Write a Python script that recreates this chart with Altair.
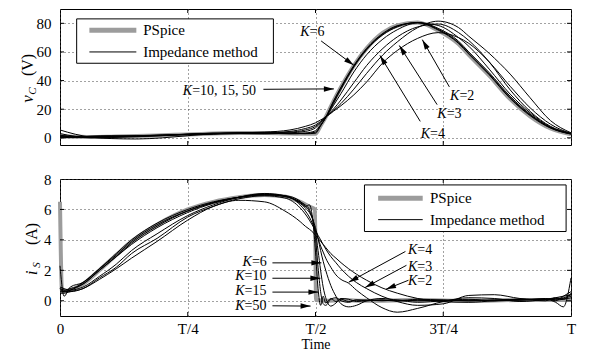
import math
import altair as alt
import pandas as pd

FONT = "Liberation Serif"
W = 511
H_TOP, H_BOT = 136, 137
V_DOMAIN = [-5, 90]
I_DOMAIN = [-1, 8]
GRAY = "#9c9c9c"

X_TICKS = [0, 0.25, 0.5, 0.75, 1.0]
X_TICK_LABELS = ["0", "T/4", "T/2", "3T/4", "T"]
V_TICKS = [0, 20, 40, 60, 80]
I_TICKS = [0, 2, 4, 6, 8]

# ---------------- top panel: capacitor voltage vC ----------------
t_ps_v = [0, 0.03, 0.06, 0.1, 0.15, 0.2, 0.25, 0.3, 0.35, 0.4, 0.45, 0.48, 0.5, 0.51, 0.52,
          0.535, 0.55, 0.575, 0.6, 0.632, 0.66, 0.7, 0.74, 0.78, 0.8, 0.84, 0.881, 0.92, 0.96, 1.0]
ps_v = [1.0, 0.8, 0.6, 0.8, 1.2, 1.8, 2.4, 3.0, 3.3, 3.3, 3.0, 2.8, 2.8, 8.5, 14.5,
        25.5, 35.5, 50.5, 62.5, 73.5, 78.5, 80.5, 75.0, 65.5, 58.0, 43.5, 27.0, 15.0, 6.5, 2.5]

t_k_v = [0, 0.03, 0.06, 0.1, 0.15, 0.2, 0.25, 0.3, 0.35, 0.4, 0.45, 0.48, 0.5, 0.51, 0.52,
         0.535, 0.55, 0.575, 0.6, 0.632, 0.66, 0.7, 0.74, 0.78, 0.8, 0.84, 0.881, 0.92, 0.96, 1.0]
vc_k50 = [1.0, 0.9, 0.5, 0.8, 1.3, 1.7, 2.4, 3.0, 3.4, 3.3, 3.0, 2.9, 3.2, 8.5, 14.5,
          25.5, 35.5, 50.5, 62.5, 73.0, 78.3, 80.4, 75.3, 66.0, 58.5, 44.0, 27.5, 15.5, 6.8, 2.6]
vc_k15 = [0.5, 0.4, 0.9, 1.2, 1.0, 1.6, 2.6, 3.2, 3.1, 3.3, 3.1, 3.0, 4.0, 8.5, 14.0,
          25.0, 35.0, 50.0, 62.0, 72.5, 78.0, 80.5, 75.8, 66.5, 59.0, 44.5, 28.0, 16.0, 7.0, 2.7]
vc_k10 = [1.5, 1.0, 0.8, 0.6, 1.2, 2.0, 2.3, 2.8, 3.6, 3.4, 2.8, 3.3, 5.0, 9.0, 14.0,
          24.0, 34.0, 49.5, 61.5, 72.0, 77.5, 80.6, 76.5, 67.5, 60.0, 45.5, 29.0, 16.5, 7.2, 2.8]
vc_k6 = [0.0, 0.5, 1.2, 1.5, 1.4, 1.8, 2.6, 3.2, 3.0, 2.8, 3.5, 4.5, 7.0, 10.5, 14.5,
         22.5, 31.0, 46.0, 58.0, 69.0, 75.5, 80.3, 78.5, 70.0, 64.0, 48.0, 30.5, 17.5, 7.5, 3.0]
vc_k4 = [2.0, 0.5, 0.3, 1.0, 1.5, 2.0, 2.2, 2.5, 3.0, 3.6, 4.0, 5.5, 8.0, 11.0, 14.5,
         20.0, 26.5, 38.5, 50.5, 62.5, 70.5, 77.5, 79.5, 73.5, 68.0, 53.0, 33.5, 18.5, 8.0, 3.0]
vc_k3 = [3.0, 1.0, 0.0, 0.2, 0.8, 1.5, 2.5, 3.2, 3.4, 3.2, 4.5, 6.5, 9.0, 11.5, 14.5,
         19.0, 24.0, 34.0, 45.0, 58.0, 67.0, 77.0, 81.5, 77.0, 71.0, 59.0, 44.5, 28.0, 12.0, 3.5]
vc_k2 = [5.5, 2.5, 0.5, -0.5, -0.8, 0.0, 1.5, 2.8, 3.5, 4.0, 5.5, 8.0, 10.5, 12.5, 14.5,
         18.5, 22.5, 30.0, 39.0, 52.5, 61.0, 69.5, 73.5, 70.0, 66.0, 53.0, 36.0, 21.0, 9.5, 3.0]

# ---------------- bottom panel: source current iS ----------------
t_ps_i = [0, 0.004, 0.02, 0.045, 0.077, 0.11, 0.14, 0.19, 0.25, 0.3, 0.35, 0.4, 0.44, 0.47,
          0.49, 0.499, 0.501, 0.52, 0.55, 0.6, 0.7, 0.8, 0.9, 1.0]
ps_i = [6.5, 0.6, 0.7, 1.1, 2.0, 3.0, 3.9, 5.0, 6.0, 6.5, 6.8, 6.95, 6.85, 6.5,
        6.15, 6.0, 0.05, 0.0, 0.05, 0.0, 0.05, 0.0, 0.05, 0.05]

t_k_i = [0, 0.008, 0.02, 0.045, 0.077, 0.11, 0.14, 0.19, 0.25, 0.3, 0.35, 0.4, 0.44, 0.47,
         0.48, 0.488, 0.495, 0.5, 0.505, 0.51, 0.515, 0.52, 0.53, 0.54, 0.55, 0.565, 0.58,
         0.6, 0.63, 0.66, 0.7, 0.75, 0.8, 0.85, 0.9, 0.95, 0.97, 0.985, 1.0]
is_k50 = [2.3, 0.3, 0.9, 1.2, 2.1, 3.1, 4.0, 5.1, 6.0, 6.5, 6.8, 6.95, 6.9, 6.55,
          6.2, 6.3, 5.2, 3.2, 0.8, -0.3, 0.3, -0.15, 0.15, -0.05, 0.1, -0.05, 0.05,
          0.0, 0.05, -0.02, 0.05, 0.0, 0.05, 0.0, 0.05, 0.1, -0.1, -0.4, 1.5]
is_k15 = [0.8, 0.6, 0.7, 1.2, 2.1, 3.0, 3.9, 5.0, 5.9, 6.45, 6.8, 6.95, 6.85, 6.5,
          6.3, 6.0, 5.3, 4.1, 2.2, 0.6, -0.2, -0.3, 0.1, 0.2, 0.0, -0.1, 0.05,
          0.05, 0.0, 0.05, 0.0, 0.05, 0.0, 0.05, 0.05, 0.15, 0.0, 0.3, 0.6]
is_k10 = [0.7, 0.7, 0.8, 1.1, 2.0, 2.9, 3.8, 4.9, 5.9, 6.45, 6.8, 7.0, 6.85, 6.45,
          6.2, 5.9, 5.3, 4.5, 3.3, 2.0, 0.9, 0.2, -0.35, -0.15, 0.15, 0.1, -0.05,
          0.0, 0.05, 0.0, 0.1, 0.05, 0.0, 0.05, 0.1, 0.0, 0.2, 0.1, 0.5]
is_k6 = [0.6, 0.6, 0.7, 1.1, 2.0, 2.9, 3.7, 4.8, 5.8, 6.4, 6.8, 7.0, 6.9, 6.4,
         6.1, 5.8, 5.3, 4.8, 4.1, 3.3, 2.6, 2.0, 1.0, 0.3, -0.2, -0.4, -0.3,
         0.0, 0.15, 0.05, -0.1, 0.0, 0.1, 0.0, 0.05, 0.1, 0.15, 0.2, 0.4]
is_k4 = [0.9, 0.8, 0.7, 0.9, 1.6, 2.4, 3.3, 4.4, 5.6, 6.3, 6.8, 7.05, 6.9, 6.3,
         5.9, 5.5, 5.0, 4.6, 4.1, 3.6, 3.2, 2.8, 2.2, 1.7, 1.4, 1.15, 0.7,
         0.2, -0.45, -0.75, -0.5, -0.05, 0.2, 0.15, -0.05, 0.1, 0.2, 0.3, 0.4]
is_k3 = [0.5, 0.5, 0.6, 0.8, 1.5, 2.2, 3.1, 4.1, 5.5, 6.2, 6.7, 6.9, 6.75, 6.1,
         5.7, 5.3, 4.9, 4.6, 4.3, 4.0, 3.7, 3.4, 2.9, 2.5, 2.1, 1.6, 1.2,
         0.8, 0.3, -0.05, -0.3, -0.2, 0.35, 0.4, 0.15, 0.05, 0.1, 0.15, 0.3]
is_k2 = [0.8, 0.7, 0.6, 0.8, 1.4, 2.1, 2.8, 3.9, 5.3, 6.2, 6.6, 6.5, 5.9, 5.2,
         4.9, 4.7, 4.5, 4.3, 4.1, 3.9, 3.7, 3.5, 3.1, 2.8, 2.5, 2.1, 1.75,
         1.35, 0.85, 0.5, 0.15, -0.05, -0.1, 0.0, 0.1, 0.1, 0.05, 0.1, 0.2]

K_NAMES = ["K=2", "K=3", "K=4", "K=6", "K=10", "K=15", "K=50"]
VC_SERIES = [vc_k2, vc_k3, vc_k4, vc_k6, vc_k10, vc_k15, vc_k50]
IS_SERIES = [is_k2, is_k3, is_k4, is_k6, is_k10, is_k15, is_k50]

LEGEND_LABELS = ["PSpice", "Impedance method"]

# annotations (data coordinates): label split point (after italic K), rest of text
V_LABELS = [("=6", 0.4885, 74.1), ("=10, 15, 50", 0.2586, 32.8), ("=2", 0.7816, 29.4),
            ("=3", 0.7567, 16.7), ("=4", 0.7241, 2.9)]
V_ARROWS = [(0.511, 67.7, 0.575, 50.7), (0.398, 33.9, 0.536, 34.2), (0.762, 35.6, 0.709, 68.6),
            (0.738, 23.2, 0.664, 64.5), (0.705, 11.5, 0.626, 57.6)]
I_LABELS = [("=6", 0.3755, 2.52), ("=10", 0.3611, 1.61), ("=15", 0.3611, 0.63), ("=50", 0.3611, -0.35),
            ("=4", 0.6992, 3.31), ("=3", 0.6992, 2.2), ("=2", 0.6992, 1.28)]
I_ARROWS = [(0.4157, 2.49, 0.5115, 2.49), (0.4157, 1.48, 0.5096, 1.48), (0.4157, 0.57, 0.5057, 0.57),
            (0.4157, -0.33, 0.4904, -0.35), (0.676, 3.24, 0.565, 1.22), (0.678, 2.33, 0.597, 0.87),
            (0.682, 1.35, 0.638, 0.76)]

# legend layout in data coordinates: box (t1, t2, v1, v2), sample line (t1, t2), rows v, text t
V_LEGEND = dict(box=(0.0326, 0.4176, 52.1, 83.1), line=(0.0575, 0.1494), rows=(75.2, 60.0), text=0.1628)
I_LEGEND = dict(box=(0.5958, 0.9904, 4.55, 7.61), line=(0.6226, 0.7098), rows=(6.74, 5.33), text=0.7241)

ARROW_PATH = "M0,0L-1,-0.27L-1,0.27Z"
label_expr = " : ".join(
    f"datum.value == {v} ? '{s}'" for v, s in zip(X_TICKS[:-1], X_TICK_LABELS[:-1])
) + f" : '{X_TICK_LABELS[-1]}'"


def long_df(t, names, series):
    rows = []
    for name, vals in zip(names, series):
        for tt, vv in zip(t, vals):
            rows.append({"t": tt, "val": vv, "series": name})
    return pd.DataFrame(rows)


def panel(ps_t, ps_vals, k_t, k_series, ydomain, yticks, leg, labels, arrows,
          ytitle, show_x, title_x, H):
    xs = alt.Scale(domain=[0, 1], nice=False, zero=False)
    ys = alt.Scale(domain=ydomain, nice=False, zero=False)
    xaxis = alt.Axis(values=X_TICKS, labelExpr=label_expr, labels=show_x, grid=True,
                     ticks=False, domain=False, labelFlush=False, labelPadding=5,
                     titlePadding=1, titleFontWeight="normal",
                     labelFont=FONT, labelFontSize=15, labelColor="black",
                     titleFont=FONT, titleFontSize=14, titleColor="black",
                     gridColor="#444444", gridDash=[1, 3], gridOpacity=1, gridWidth=1)
    yaxis = alt.Axis(values=yticks, grid=True, ticks=False, domain=False, labelPadding=9,
                     labelFont=FONT, labelFontSize=15, labelColor="black",
                     gridColor="#444444", gridDash=[1, 3], gridOpacity=1, gridWidth=1)

    def X(f):
        return alt.X(f, type="quantitative", scale=xs, axis=xaxis, title="Time" if show_x else None)

    def Y(f):
        return alt.Y(f, type="quantitative", scale=ys, axis=yaxis, title=None)

    ps_df = pd.DataFrame({"t": ps_t, "val": ps_vals})
    k_df = long_df(k_t, K_NAMES, k_series)

    gray = alt.Chart(ps_df).mark_line(color=GRAY, strokeWidth=4, interpolate="monotone").encode(
        x=X("t"), y=Y("val"))
    black = alt.Chart(k_df).mark_line(color="black", strokeWidth=1, interpolate="monotone").encode(
        x=X("t"), y=Y("val"), detail="series:N")

    # inward ticks
    xt = pd.DataFrame({"t": X_TICKS[1:-1]})
    yt = pd.DataFrame({"val": [v for v in yticks if ydomain[0] < v < ydomain[1]]})
    tick_b = alt.Chart(xt).mark_rule(color="black").encode(x=X("t"), y=alt.value(H), y2=alt.value(H - 4))
    tick_t = alt.Chart(xt).mark_rule(color="black").encode(x=X("t"), y=alt.value(0), y2=alt.value(4))
    tick_l = alt.Chart(yt).mark_rule(color="black").encode(y=Y("val"), x=alt.value(0), x2=alt.value(4))
    tick_r = alt.Chart(yt).mark_rule(color="black").encode(y=Y("val"), x=alt.value(W), x2=alt.value(W - 4))

    # legend
    b = leg["box"]
    box_df = pd.DataFrame({"t": [b[0]], "t2": [b[1]], "val": [b[2]], "val2": [b[3]]})
    box = alt.Chart(box_df).mark_rect(fill="white", stroke="black", strokeWidth=1).encode(
        x=X("t"), x2="t2", y=Y("val"), y2="val2")
    l1 = pd.DataFrame({"t": [leg["line"][0]], "t2": [leg["line"][1]], "val": [leg["rows"][0]]})
    l2 = pd.DataFrame({"t": [leg["line"][0]], "t2": [leg["line"][1]], "val": [leg["rows"][1]]})
    leg_gray = alt.Chart(l1).mark_rule(color=GRAY, strokeWidth=5).encode(x=X("t"), x2="t2", y=Y("val"))
    leg_black = alt.Chart(l2).mark_rule(color="black", strokeWidth=1).encode(x=X("t"), x2="t2", y=Y("val"))
    lt_df = pd.DataFrame({"t": [leg["text"]] * 2, "val": list(leg["rows"]), "label": LEGEND_LABELS})
    leg_text = alt.Chart(lt_df).mark_text(align="left", baseline="middle", font=FONT, fontSize=15,
                                          color="black").encode(x=X("t"), y=Y("val"), text="label:N")

    # annotations
    lab_df = pd.DataFrame([{"t": t, "val": v, "rest": r, "k": "K"} for r, t, v in labels])
    k_text = alt.Chart(lab_df).mark_text(align="right", baseline="middle", font=FONT, fontSize=14,
                                         fontStyle="italic", color="black").encode(
        x=X("t"), y=Y("val"), text="k:N")
    r_text = alt.Chart(lab_df).mark_text(align="left", baseline="middle", font=FONT, fontSize=14,
                                         color="black").encode(
        x=X("t"), y=Y("val"), text="rest:N")

    ky = H / (ydomain[1] - ydomain[0])
    arows = []
    for t1, v1, t2, v2 in arrows:
        dx = (t2 - t1) * W
        dy = -(v2 - v1) * ky
        arows.append({"t": t1, "val": v1, "t2": t2, "val2": v2,
                      "ang": math.degrees(math.atan2(dy, dx)) % 360})
    a_df = pd.DataFrame(arows)
    a_line = alt.Chart(a_df).mark_rule(color="black", strokeWidth=1).encode(
        x=X("t"), y=Y("val"), x2="t2", y2="val2")
    a_head = alt.Chart(a_df).mark_point(shape=ARROW_PATH, filled=True, color="black", opacity=1,
                                        size=400, strokeWidth=0).encode(
        x=X("t2"), y=Y("val2"), angle=alt.Angle("ang:Q", scale=None))

    # y axis title: italic symbol with subscript, then unit
    main, sub, unit, ys_main, ys_sub, ys_unit = ytitle
    tt_df = pd.DataFrame({"a": [0]})
    t_main = alt.Chart(tt_df).mark_text(text=main, angle=270, align="center", baseline="alphabetic",
                                        font=FONT, fontSize=17, fontStyle="italic", color="black").encode(
        x=alt.value(title_x), y=alt.value(ys_main))
    t_sub = alt.Chart(tt_df).mark_text(text=sub, angle=270, align="center", baseline="alphabetic",
                                       font=FONT, fontSize=11, fontStyle="italic", color="black").encode(
        x=alt.value(title_x + 3), y=alt.value(ys_sub))
    t_unit = alt.Chart(tt_df).mark_text(text=unit, angle=270, align="center", baseline="alphabetic",
                                        font=FONT, fontSize=16, color="black").encode(
        x=alt.value(title_x), y=alt.value(ys_unit))

    return alt.layer(gray, black, tick_b, tick_t, tick_l, tick_r, box, leg_gray, leg_black, leg_text,
                     a_line, a_head, k_text, r_text, t_main, t_sub, t_unit).properties(width=W, height=H)


top = panel(t_ps_v, ps_v, t_k_v, VC_SERIES, V_DOMAIN, V_TICKS, V_LEGEND, V_LABELS, V_ARROWS,
            ("v", "C", "(V)", 90, 82, 56), False, -27, H_TOP)
bottom = panel(t_ps_i, ps_i, t_k_i, IS_SERIES, I_DOMAIN, I_TICKS, I_LEGEND, I_LABELS, I_ARROWS,
               ("i", "S", "(A)", 94, 86, 55), True, -23, H_BOT)

chart = alt.vconcat(top, bottom, spacing=34, bounds="flush").properties(
    padding={"left": 10, "top": 0, "right": 0, "bottom": 0}, background="white"
).configure_view(stroke="black", strokeWidth=1, fill="white")

chart.save("out.html", embed_options={"renderer": "svg", "actions": False})
